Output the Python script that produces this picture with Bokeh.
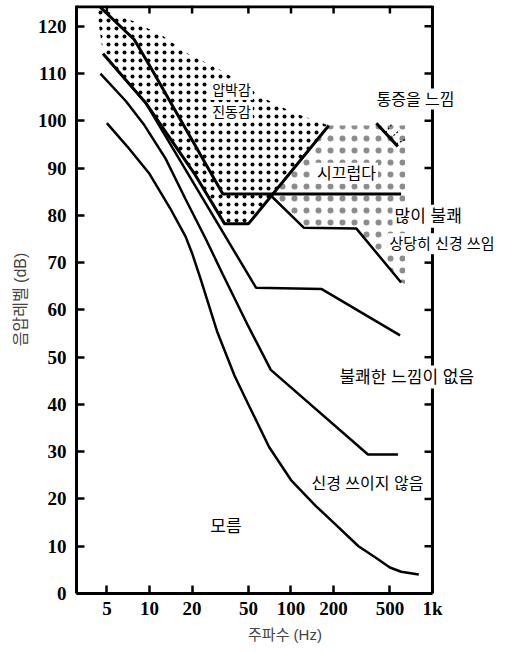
import math
from bokeh.plotting import figure
from bokeh.models import Range1d, FixedTicker, Label
from bokeh.embed import file_html
from bokeh.resources import INLINE

# ---------------- data ----------------
freq_ticks = [5, 10, 20, 50, 100, 200, 500, 1000]
freq_labels = ["5", "10", "20", "50", "100", "200", "500", "1k"]
db_ticks = [0, 10, 20, 30, 40, 50, 60, 70, 80, 90, 100, 110, 120]
freq_min, freq_max = 3.05, 1000     # frequency span of the boxed chart
db_min, db_max = 0, 124.4

# upper thick line (압박감 side), ends in the 85 dB plateau
line_a_f = [4.5, 7.8, 10.2, 16, 33, 600]
line_a_db = [124, 117.2, 111.3, 101, 84.5, 84.5]

# dotted-region boundary (V shape)
line_b_f = [4.7, 9.4, 21, 34, 50, 185]
line_b_db = [114.2, 103.8, 88.6, 78.2, 78.2, 99]

# line branching from b, plateau near 65 dB
line_e_f = [4.7, 9.4, 56.6, 165, 590]
line_e_db = [114.2, 103.8, 64.7, 64.4, 54.6]

# line ending in the 30 dB plateau
line_c_f = [4.5, 6.8, 9.1, 13, 18, 25, 33, 50, 72, 350, 570]
line_c_db = [110, 104.2, 99.3, 92, 83.4, 75, 67.5, 56.5, 47.3, 29.4, 29.4]

# lowest curve
line_d_f = [5, 7, 10, 14, 18, 20, 23, 30, 40, 50, 70, 100, 150, 200, 300, 400, 500, 600, 800]
line_d_db = [99.5, 94.5, 88.8, 81.5, 75.5, 72, 66.5, 55.5, 46, 40, 31, 24, 18.5, 15, 10, 7.5, 5.5, 4.6, 4]

# line from the crossing point down ("많이 불쾌" boundary)
line_f_f = [72, 123, 290, 600]
line_f_db = [84.2, 77.4, 77.2, 65.8]

# pain line
pain_f = [401, 569]
pain_db = [99.5, 94.6]
pain_ray_f0 = [465, 505, 554]
pain_ray_db0 = [97.5, 96.3, 95.1]
pain_ray_f1 = [522, 585, 645]
pain_ray_db1 = [99.5, 98.0, 96.1]

# box edges: top edge and right edge (at 1 kHz) with their inward ticks
box_top_f = [3.05, 1000]
box_top_db = [124.2, 124.2]
box_right_f = [999.5, 999.5]
box_right_db = [0, 124.4]
top_tick_f = [5, 10, 20, 50, 100, 200, 500]
top_tick_db0 = [124.4, 124.4, 124.4, 124.4, 124.4, 124.4, 124.4]
top_tick_db1 = [122.7, 122.7, 122.7, 122.7, 122.7, 122.7, 122.7]
right_tick_db = [10, 20, 30, 40, 50, 60, 70, 80, 90, 100, 110, 120]
right_tick_f0 = [999.5, 999.5, 999.5, 999.5, 999.5, 999.5, 999.5, 999.5, 999.5, 999.5, 999.5, 999.5]
right_tick_f1 = [878, 878, 878, 878, 878, 878, 878, 878, 878, 878, 878, 878]

# dense dotted region
dense_f = [4.22, 7.62, 12.4, 18.2, 33.0, 67.2, 102.5, 185, 50, 34, 21, 9.4, 4.7]
dense_db = [124, 121.1, 118.0, 114.4, 110.5, 104.5, 101.8, 99, 78.2, 78.2, 88.6, 103.8, 114.2]

# sparse dotted region
sparse_f = [185, 640, 640, 600, 290, 123, 72]
sparse_db = [99, 99, 65.5, 65.8, 77.2, 77.4, 84.2]

# region texts: text, frequency, level, alignment, size
text_items = [
    ("압박감", 38, 106.5, "center", 14),
    ("진동감", 38, 101.8, "center", 14),
    ("통증을 느낌", 389, 104.6, "left", 16),
    ("시끄럽다", 247, 88.9, "center", 16),
    ("많이 불쾌", 522, 79.8, "left", 17),
    ("상당히 신경 쓰임", 481, 74.0, "left", 15),
    ("불쾌한 느낌이 없음", 213, 45.8, "left", 17),
    ("신경 쓰이지 않음", 135, 23.2, "left", 16),
    ("모름", 34.7, 14.2, "center", 17),
]

KFONT = "Liberation Sans, Noto Sans CJK KR"

# frame runs on past 1 kHz so that texts crossing the right box edge are not clipped
PX_PER_DECADE = 356 / math.log10(freq_max / freq_min)
x_end = freq_max * 10 ** (61 / PX_PER_DECADE)

p = figure(width=493, height=648, x_axis_type="log",
           x_range=Range1d(freq_min, x_end), y_range=Range1d(db_min, db_max),
           output_backend="svg", toolbar_location=None,
           min_border_left=76, min_border_right=0, min_border_top=5, min_border_bottom=55)
p.xgrid.visible = False
p.ygrid.visible = False
p.outline_line_color = None
p.background_fill_color = "white"
p.border_fill_color = "white"


def style_axis(ax):
    ax.axis_line_width = 3
    ax.axis_line_color = "black"
    ax.major_tick_in = 8
    ax.major_tick_out = 0
    ax.major_tick_line_width = 2.5
    ax.major_tick_line_color = "black"
    ax.minor_tick_line_color = None
    ax.major_label_text_font = "Liberation Serif"
    ax.major_label_text_font_style = "bold"
    ax.major_label_text_font_size = "19px"
    ax.major_label_text_color = "black"


xax = p.xaxis[0]
xax.ticker = FixedTicker(ticks=freq_ticks)
xax.bounds = (freq_min, freq_max)
xax.major_label_overrides = {t: l for t, l in zip(freq_ticks, freq_labels)}
style_axis(xax)
xax.major_label_standoff = 4
xax.axis_label = "주파수 (Hz)"
xax.axis_label_text_font = KFONT
xax.axis_label_text_font_style = "normal"
xax.axis_label_text_font_size = "15px"
xax.axis_label_standoff = 4

yax = p.yaxis[0]
yax.ticker = FixedTicker(ticks=db_ticks)
style_axis(yax)
yax.major_label_standoff = 10
yax.axis_label = "음압레벨 (dB)"
yax.axis_label_text_font = KFONT
yax.axis_label_text_font_style = "normal"
yax.axis_label_text_font_size = "16px"
yax.axis_label_standoff = 6

# dotted regions
p.patch(dense_f, dense_db, fill_color=None, line_color=None,
        hatch_pattern="dot", hatch_color="black", hatch_scale=8)
p.patch(sparse_f, sparse_db, fill_color=None, line_color=None,
        hatch_pattern="dot", hatch_color="black", hatch_scale=12, hatch_alpha=0.45)

# curves
p.line(line_d_f, line_d_db, line_width=2.5, color="black")
p.line(line_c_f, line_c_db, line_width=2.5, color="black")
p.line(line_e_f, line_e_db, line_width=2.5, color="black")
p.line(line_b_f, line_b_db, line_width=3, color="black")
p.line(line_a_f, line_a_db, line_width=3, color="black")
p.line(line_f_f, line_f_db, line_width=2.5, color="black")
p.line(pain_f, pain_db, line_width=3, color="black")
p.segment(x0=pain_ray_f0, y0=pain_ray_db0, x1=pain_ray_f1, y1=pain_ray_db1,
          line_width=1.2, color="black", line_dash="2 2")

# box edges and inward ticks on the top and right
p.line(box_top_f, box_top_db, line_width=3.5, color="black")
p.line(box_right_f, box_right_db, line_width=3, color="black")
p.segment(x0=top_tick_f, y0=top_tick_db0, x1=top_tick_f, y1=top_tick_db1,
          line_width=2.5, color="black")
p.segment(x0=right_tick_f0, y0=right_tick_db, x1=right_tick_f1, y1=right_tick_db,
          line_width=2.5, color="black")

for txt, fx, dbv, align, size in text_items:
    p.add_layout(Label(x=fx, y=dbv, text=txt, text_font=KFONT, text_font_size=f"{size}px",
                       text_align=align, text_baseline="middle", text_color="black",
                       background_fill_color="white", padding=2))

open("out.html", "w").write(file_html(p, INLINE))
